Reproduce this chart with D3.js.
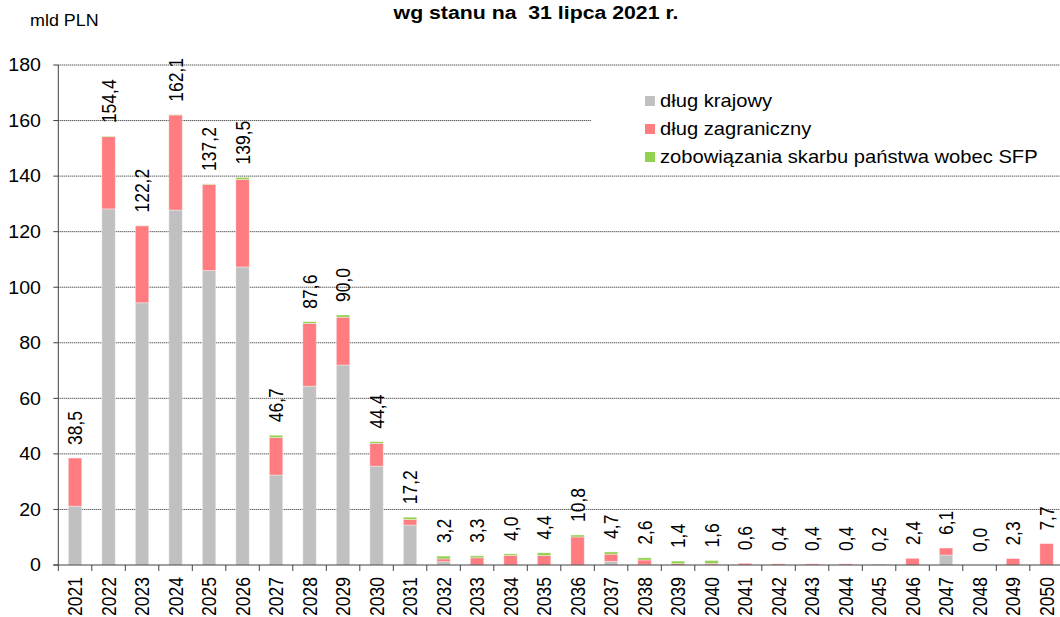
<!DOCTYPE html>
<html>
<head>
<meta charset="utf-8">
<script src="https://cdn.jsdelivr.net/npm/d3@7"></script>
<style>
  html, body { margin: 0; padding: 0; background: #fff; }
  svg { display: block; font-family: "Liberation Sans", Arial, sans-serif; }
</style>
</head>
<body>
<svg id="chart" width="1060" height="617"></svg>
<script>
// Maturity years
const years = [2021, 2022, 2023, 2024, 2025, 2026, 2027, 2028, 2029, 2030,
  2031, 2032, 2033, 2034, 2035, 2036, 2037, 2038, 2039, 2040,
  2041, 2042, 2043, 2044, 2045, 2046, 2047, 2048, 2049, 2050];

// Domestic debt (mld PLN)
const krajowy = [21.2, 128.2, 94.4, 127.8, 106.0, 107.3, 32.4, 64.4, 72.0, 35.6,
  14.4, 1.2, 0, 0, 0, 0, 1.3, 0.1, 0, 0.1,
  0, 0, 0, 0, 0, 0, 3.6, 0, 0, 0];

// Foreign debt (mld PLN)
const zagraniczny = [17.3, 26.0, 27.7, 34.2, 31.0, 31.5, 13.5, 22.6, 17.2, 8.2,
  2.0, 1.0, 2.6, 3.4, 3.4, 10.1, 2.6, 1.7, 0.5, 0.5,
  0.6, 0.4, 0.4, 0.4, 0.2, 2.4, 2.5, 0, 2.3, 7.7];

// Treasury liabilities towards SFP (mld PLN)
const sfp = [0, 0.2, 0.1, 0.1, 0.2, 0.7, 0.8, 0.6, 0.8, 0.6,
  0.8, 1.0, 0.7, 0.6, 1.0, 0.7, 0.8, 0.8, 0.9, 1.0,
  0, 0, 0, 0, 0, 0, 0, 0, 0, 0];

const yTicks = [0, 20, 40, 60, 80, 100, 120, 140, 160, 180];

const seriesNames = ["dług krajowy", "dług zagraniczny", "zobowiązania skarbu państwa wobec SFP"];
const seriesKeys = ["krajowy", "zagraniczny", "sfp"];
const seriesColors = ["#c0c0c0", "#ff7c80", "#92d050"];

const titleText = "wg stanu na\u00a0\u00a031 lipca 2021 r.";
const unitText = "mld PLN";

// ---------------------------------------------------------------
const SX = 1.12; // horizontal stretch applied to all text
const FONT = 17.5;

const rows = years.map((yr, i) => ({
  year: yr,
  krajowy: krajowy[i],
  zagraniczny: zagraniczny[i],
  sfp: sfp[i]
}));
const totals = rows.map(r => +(r.krajowy + r.zagraniczny + r.sfp).toFixed(1));

const svg = d3.select("#chart");

const x = d3.scaleBand()
  .domain(years)
  .range([58.3, 58.3 + 33.5 * years.length])
  .paddingInner(0.6)
  .paddingOuter(0.3);

const y = d3.scaleLinear()
  .domain([0, 180])
  .range([565, 65]);

const fmt = v => v.toFixed(1).replace(".", ",");

// Horizontal gridlines (dotted)
svg.append("g")
  .selectAll("line")
  .data(yTicks.filter(t => t > 0))
  .join("line")
  .attr("x1", x.range()[0])
  .attr("x2", 1060)
  .attr("y1", d => y(d))
  .attr("y2", d => y(d))
  .attr("stroke", "#1a1a1a")
  .attr("stroke-width", 1)
  .attr("stroke-dasharray", "1,1");

// Stacked bars
const stack = d3.stack().keys(seriesKeys);
const stacked = stack(rows);

svg.append("g")
  .selectAll("g")
  .data(stacked)
  .join("g")
  .attr("fill", (d, i) => seriesColors[i])
  .selectAll("rect")
  .data(d => d.map(s => ({ s, year: s.data.year })))
  .join("rect")
  .attr("x", d => x(d.year))
  .attr("width", x.bandwidth())
  .attr("y", d => y(d.s[1]))
  .attr("height", d => Math.max(0, y(d.s[0]) - y(d.s[1])))
  .attr("stroke", "#ffffff")
  .attr("stroke-opacity", 0.45)
  .attr("stroke-width", 0.8);

// Value labels above bars
svg.append("g")
  .selectAll("text")
  .data(rows)
  .join("text")
  .attr("transform", (d, i) =>
    `translate(${x(d.year) + x.bandwidth() / 2},${y(totals[i]) - 13}) scale(${SX},1) rotate(-90)`)
  .attr("dy", "0.36em")
  .attr("text-anchor", "start")
  .attr("font-size", FONT)
  .attr("fill", "#000")
  .text((d, i) => fmt(totals[i]));

// Y axis
const yAxis = svg.append("g");
yAxis.append("line")
  .attr("x1", x.range()[0]).attr("x2", x.range()[0])
  .attr("y1", y(0)).attr("y2", y(180))
  .attr("stroke", "#404040");
yAxis.selectAll("line.tick")
  .data(yTicks)
  .join("line")
  .attr("class", "tick")
  .attr("x1", x.range()[0] - 5).attr("x2", x.range()[0])
  .attr("y1", d => y(d)).attr("y2", d => y(d))
  .attr("stroke", "#404040");
yAxis.selectAll("text")
  .data(yTicks)
  .join("text")
  .attr("transform", d => `translate(41,${y(d)}) scale(${SX},1)`)
  .attr("dy", "0.36em")
  .attr("text-anchor", "end")
  .attr("font-size", FONT)
  .attr("fill", "#000")
  .text(d => d);

// X axis
const xAxis = svg.append("g");
xAxis.append("line")
  .attr("x1", x.range()[0] - 5).attr("x2", 1060)
  .attr("y1", y(0)).attr("y2", y(0))
  .attr("stroke", "#404040");
xAxis.selectAll("line.tick")
  .data(years)
  .join("line")
  .attr("class", "tick")
  .attr("x1", d => x(d) - x.step() * x.paddingOuter())
  .attr("x2", d => x(d) - x.step() * x.paddingOuter())
  .attr("y1", y(0)).attr("y2", y(0) + 6)
  .attr("stroke", "#404040");
xAxis.selectAll("text")
  .data(years)
  .join("text")
  .attr("transform", d => `translate(${x(d) + x.bandwidth() / 2},577) scale(${SX},1) rotate(-90)`)
  .attr("dy", "0.36em")
  .attr("text-anchor", "end")
  .attr("font-size", FONT)
  .attr("fill", "#000")
  .text(d => d);

// Legend
const legend = svg.append("g");
legend.append("rect")
  .attr("x", 591).attr("y", 76)
  .attr("width", 480).attr("height", 94)
  .attr("fill", "#fff");
const li = legend.selectAll("g.item")
  .data(seriesNames)
  .join("g")
  .attr("class", "item")
  .attr("transform", (d, i) => `translate(645,${101 + i * 28})`);
li.append("rect")
  .attr("x", 0).attr("y", -5)
  .attr("width", 10).attr("height", 10)
  .attr("fill", (d, i) => seriesColors[i]);
li.append("text")
  .attr("transform", `translate(15,0) scale(${SX},1)`)
  .attr("dy", "0.36em")
  .attr("font-size", 18)
  .attr("fill", "#000")
  .text(d => d);

// Title and unit
svg.append("text")
  .attr("transform", `translate(536,12) scale(${SX},1)`)
  .attr("dy", "0.36em")
  .attr("text-anchor", "middle")
  .attr("font-size", 19)
  .attr("font-weight", "bold")
  .attr("fill", "#000")
  .text(titleText);

svg.append("text")
  .attr("transform", `translate(30,20) scale(${SX},1)`)
  .attr("dy", "0.36em")
  .attr("font-size", 16)
  .attr("fill", "#000")
  .text(unitText);
</script>
</body>
</html>
